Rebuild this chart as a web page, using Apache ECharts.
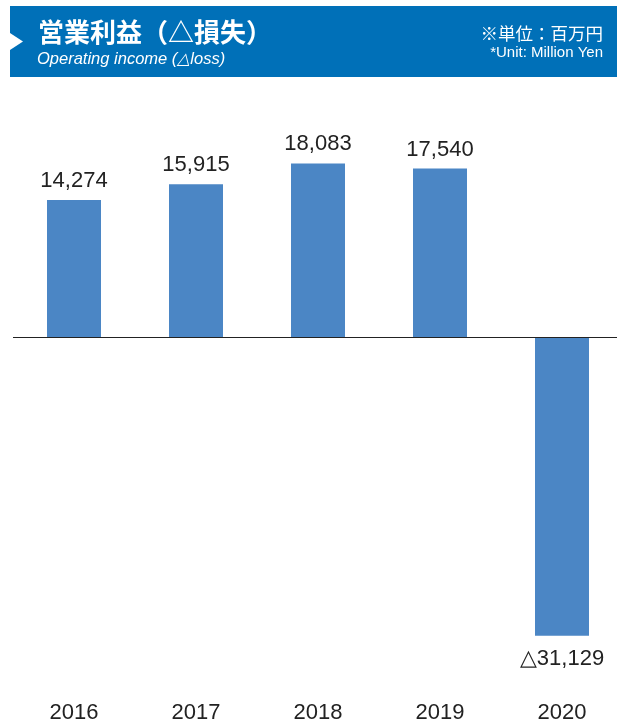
<!DOCTYPE html>
<html>
<head>
<meta charset="utf-8">
<script src="https://cdn.jsdelivr.net/npm/echarts@6/dist/echarts.min.js"></script>
<style>html,body{margin:0;padding:0;background:#fff}#c{width:617px;height:724px}</style>
</head>
<body>
<div id="c"></div>
<script>
var categories = ['2016', '2017', '2018', '2019', '2020'];
var operatingIncome = [14274, 15915, 18083, 17540, -31129];
var titleJa = '営業利益（△損失）';
var titleEn = 'Operating income (△loss)';
var unitJa = '※単位：百万円';
var unitEn = '*Unit: Million Yen';

var chart = echarts.init(document.getElementById('c'), null, {renderer: 'canvas'});
function fmt(v) {
  var s = Math.abs(v).toString().replace(/\B(?=(\d{3})+(?!\d))/g, ',');
  return v < 0 ? '△' + s : s;
}
var font = '"Liberation Sans", Arial, Helvetica, sans-serif';
chart.setOption({
  animation: false,
  backgroundColor: '#ffffff',
  grid: {left: 13, top: 97, width: 610, height: 576, containLabel: false, outerBoundsMode: 'none'},
  xAxis: {
    type: 'category',
    data: categories,
    position: 'bottom',
    axisLine: {show: false},
    axisTick: {show: false},
    axisLabel: {margin: 29, fontSize: 22, color: '#222', fontFamily: font}
  },
  yAxis: {
    type: 'value',
    min: -35000,
    max: 25000,
    show: false,
    splitLine: {show: false}
  },
  series: [{
    type: 'bar',
    data: operatingIncome.map(function (v) {
      return {
        value: v,
        label: {position: v < 0 ? 'bottom' : 'top', distance: v < 0 ? 12 : 8}
      };
    }),
    barWidth: 54,
    itemStyle: {color: '#4b86c5'},
    label: {
      show: true,
      fontSize: 22,
      color: '#222',
      fontFamily: font,
      formatter: function (p) { return fmt(p.value); }
    },
    markLine: {
      silent: true,
      symbol: 'none',
      label: {show: false},
      lineStyle: {color: '#222', width: 1.2, type: 'solid'},
      data: [{yAxis: 0}]
    }
  }],
  graphic: [
    {type: 'rect', shape: {x: 10, y: 6, width: 607, height: 71}, style: {fill: '#0070b8'}},
    {type: 'polygon', shape: {points: [[10, 33], [23, 41.5], [10, 50]]}, style: {fill: '#ffffff'}},
    {type: 'text', x: 38, y: 32, style: {text: titleJa, fill: '#fff', fontSize: 26, fontWeight: 'bold', fontFamily: '"Noto Sans CJK JP", sans-serif', verticalAlign: 'middle'}},
    {type: 'text', x: 37, y: 59, style: {text: titleEn, fill: '#fff', fontSize: 16.5, fontStyle: 'italic', fontFamily: font, verticalAlign: 'middle'}},
    {type: 'text', x: 603, y: 33, style: {text: unitJa, fill: '#fff', fontSize: 17.5, fontFamily: '"Noto Sans CJK JP", sans-serif', align: 'right', verticalAlign: 'middle'}},
    {type: 'text', x: 603, y: 53, style: {text: unitEn, fill: '#fff', fontSize: 15, fontFamily: font, align: 'right', verticalAlign: 'middle'}}
  ]
});
</script>
</body>
</html>
